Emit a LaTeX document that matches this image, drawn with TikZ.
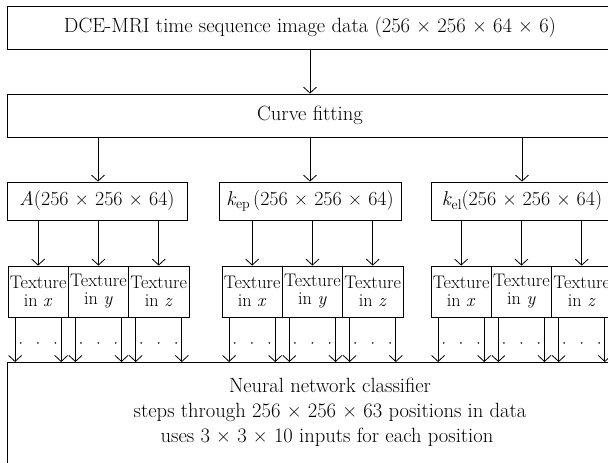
\documentclass[tikz,border=0pt]{standalone}
\usepackage{fontspec}
\usetikzlibrary{arrows.meta}
\newcommand{\sbs}[1]{\raisebox{-0.35ex}{\fontsize{14}{14}\selectfont #1}}
\tikzset{
  box/.style={draw, line width=0.8pt, inner sep=0pt},
  arr/.style={line width=0.8pt, -{Straight Barb[length=6pt,width=13pt,line width=0.8pt]}},
  big/.style={font=\fontsize{20.6}{25}\selectfont},
  par/.style={font=\fontsize{20}{25}\selectfont},
  tex/.style={box, minimum width=60.3pt, minimum height=51pt, align=center, font=\fontsize{18.2}{18}\selectfont},
  dotsx/.style={font=\fontsize{20.6}{25}\selectfont, anchor=base, inner sep=0pt},
}
\begin{document}
\begin{tikzpicture}[x=1pt,y=-1pt]
\useasboundingbox (0,0) rectangle (608,463);
\clip (0,0) rectangle (608,463);
% top boxes
\node[box, big, minimum width=606pt, minimum height=43pt] (top) at (310,27.5) {DCE-MRI time sequence image data (256 × 256 × 64 × 6)};
\node[box, big, minimum width=606pt, minimum height=43pt] (fit) at (310,115.5) {Curve fitting};
\draw[arr] (top.south) -- (fit.north);
% parameter boxes
\node[box, par, minimum width=180pt, minimum height=38pt] (pA) at (97,201) {\textit{A}(256 × 256 × 64)};
\node[box, par, minimum width=182pt, minimum height=38pt] (pB) at (310,201) {\textit{k}\sbs{ep}\,(256 × 256 × 64)};
\node[box, par, minimum width=182pt, minimum height=38pt] (pC) at (522,201) {\textit{k}\sbs{el}(256 × 256 × 64)};
\coordinate (fA) at (98,137);
\coordinate (fC) at (522,137);
\draw[arr] (fA) -- (fA |- pA.north);
\draw[arr] (fit.south) -- (pB.north);
\draw[arr] (fC) -- (pC.north);
% texture boxes
\foreach \g/\x/\p in {A/38.15/pA, B/252.15/pB, C/461.15/pC}{
  \node[tex] (\g x) at (\x,291.5) {Texture\\in \textit{x}};
  \node[tex] (\g y) at (\x+60.3,291.5) {Texture\\in \textit{y}};
  \node[tex] (\g z) at (\x+120.6,291.5) {Texture\\in \textit{z}};
  \foreach \d in {x,y,z}{
    \draw[arr] (\p.south -| \g\d.north) -- (\g\d.north);
  }
}
% classifier
\node[box, minimum width=646pt, minimum height=140pt, anchor=north west] (nn) at (7,362) {};
\node[big, anchor=base] (nt1) at (330,392) {Neural network classifier};
\node[big, anchor=base] (nt2) at (330,417) {steps through 256 × 256 × 63 positions in data};
\node[big, anchor=base] (nt3) at (327,442) {uses 3 × 3 × 10 inputs for each position};
\foreach \g in {A,B,C}{
  \foreach \d in {x,y,z}{
    \draw[arr] ([xshift=7.5pt]\g\d.south west) -- ([xshift=7.5pt]\g\d.south west |- nn.north);
    \draw[arr] ([xshift=-7.5pt]\g\d.south east) -- ([xshift=-7.5pt]\g\d.south east |- nn.north);
    \node[dotsx] (dots\g\d) at ([yshift=-33pt]\g\d.south) {·\hspace{2.6pt}·\hspace{2.6pt}·};
  }
}
\end{tikzpicture}
\end{document}
